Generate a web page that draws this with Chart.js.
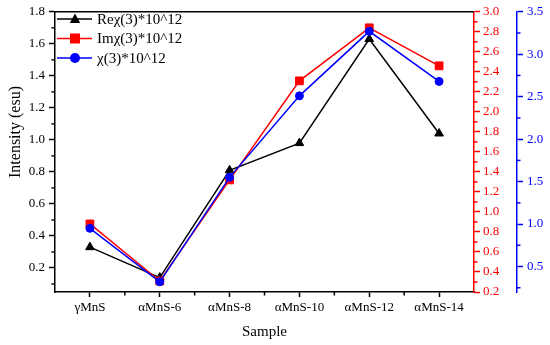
<!DOCTYPE html>
<html>
<head>
<meta charset="utf-8">
<script src="https://cdn.jsdelivr.net/npm/chart.js@4.4.0/dist/chart.umd.min.js"></script>
<style>
  body { margin: 0; background: #fff; }
</style>
</head>
<body>
<canvas id="chart" width="550" height="345"></canvas>
<script>
const categories = ['γMnS', 'αMnS-6', 'αMnS-8', 'αMnS-10', 'αMnS-12', 'αMnS-14'];
const reValues = [0.33, 0.14, 0.81, 0.98, 1.63, 1.04];
const imValues = [0.88, 0.31, 1.32, 2.31, 2.84, 2.46];
const chiValues = [0.95, 0.32, 1.55, 2.51, 3.27, 2.68];

const leftTicks = [0.2, 0.4, 0.6, 0.8, 1.0, 1.2, 1.4, 1.6, 1.8];
const redTicks = [0.2, 0.4, 0.6, 0.8, 1.0, 1.2, 1.4, 1.6, 1.8, 2.0, 2.2, 2.4, 2.6, 2.8, 3.0];
const blueTicks = [0.5, 1.0, 1.5, 2.0, 2.5, 3.0, 3.5];

const FONT = 'Liberation Serif, Times New Roman, serif';

function midpoints(ticks, min) {
    const step = ticks[1] - ticks[0];
    const out = [];
    for (let i = 0; i < ticks.length - 1; i++) out.push((ticks[i] + ticks[i + 1]) / 2);
    if (ticks[0] - step / 2 >= min) out.unshift(ticks[0] - step / 2);
    return out;
}

// short minor ticks, top frame line, y title, legend
const extras = {
    id: 'extras',
    afterDraw(chart) {
        const ctx = chart.ctx;
        const a = chart.chartArea;
        ctx.save();
        ctx.lineWidth = 1.5;

        const minor = (scale, color, side) => {
            ctx.strokeStyle = color;
            midpoints(scale.ticks.map(t => t.value), scale.min).forEach(v => {
                const y = scale.getPixelForValue(v);
                const x = side === 'left' ? scale.right : scale.left;
                ctx.beginPath();
                ctx.moveTo(x, y);
                ctx.lineTo(side === 'left' ? x - 3.5 : x + 3.5, y);
                ctx.stroke();
            });
        };
        minor(chart.scales.y, '#000', 'left');
        minor(chart.scales.y1, '#ff0000', 'right');
        minor(chart.scales.y2, '#0000ff', 'right');

        const xs = chart.scales.x;
        ctx.strokeStyle = '#000';
        for (let i = 0; i < categories.length - 1; i++) {
            const x = (xs.getPixelForValue(i) + xs.getPixelForValue(i + 1)) / 2;
            ctx.beginPath();
            ctx.moveTo(x, a.bottom);
            ctx.lineTo(x, a.bottom + 3.5);
            ctx.stroke();
        }

        // top frame
        ctx.beginPath();
        ctx.moveTo(a.left, a.top);
        ctx.lineTo(a.right, a.top);
        ctx.stroke();

        // y title
        ctx.fillStyle = '#000';
        ctx.font = '16px ' + FONT;
        ctx.textAlign = 'center';
        ctx.textBaseline = 'middle';
        ctx.translate(16, 132);
        ctx.rotate(-Math.PI / 2);
        ctx.fillText('Intensity (esu)', 0, 0);
        ctx.restore();

        // legend
        ctx.save();
        ctx.font = '15px ' + FONT;
        ctx.textBaseline = 'middle';
        ctx.textAlign = 'left';
        chart.data.datasets.forEach((ds, i) => {
            const y = 19 + i * 19.5;
            ctx.strokeStyle = ds.borderColor;
            ctx.fillStyle = ds.borderColor;
            ctx.lineWidth = 1.5;
            ctx.beginPath();
            ctx.moveTo(57, y);
            ctx.lineTo(92, y);
            ctx.stroke();
            const cx = 75;
            ctx.beginPath();
            if (ds.pointStyle === 'triangle') {
                ctx.moveTo(cx, y - 5.5);
                ctx.lineTo(cx + 5.2, y + 4);
                ctx.lineTo(cx - 5.2, y + 4);
                ctx.closePath();
            } else if (ds.pointStyle === 'rect') {
                ctx.rect(cx - 5, y - 5, 10, 10);
            } else {
                ctx.arc(cx, y, 5, 0, Math.PI * 2);
            }
            ctx.fill();
            ctx.fillStyle = '#000';
            ctx.fillText(ds.label, 97, y + 1);
        });
        ctx.restore();
    }
};

new Chart(document.getElementById('chart'), {
    type: 'line',
    data: {
        labels: categories,
        datasets: [
            {
                label: 'Reχ(3)*10^12',
                data: reValues,
                yAxisID: 'y',
                borderColor: '#000000',
                backgroundColor: '#000000',
                pointStyle: 'triangle',
                pointRadius: 5,
                borderWidth: 1.5,
                pointBorderWidth: 1,
                order: 3
            },
            {
                label: 'Imχ(3)*10^12',
                data: imValues,
                yAxisID: 'y1',
                borderColor: '#ff0000',
                backgroundColor: '#ff0000',
                pointStyle: 'rect',
                pointRadius: 5.5,
                borderWidth: 1.5,
                pointBorderWidth: 1,
                order: 2
            },
            {
                label: 'χ(3)*10^12',
                data: chiValues,
                yAxisID: 'y2',
                borderColor: '#0000ff',
                backgroundColor: '#0000ff',
                pointStyle: 'circle',
                pointRadius: 4,
                borderWidth: 1.5,
                pointBorderWidth: 1,
                order: 1
            }
        ]
    },
    options: {
        responsive: false,
        animation: false,
        layout: { padding: { top: 10, left: 0, right: 0, bottom: 0 } },
        plugins: { legend: { display: false }, tooltip: { enabled: false } },
        scales: {
            x: {
                offset: true,
                afterFit: s => { s.height = 53; },
                border: { color: '#000', width: 1.5 },
                grid: { drawOnChartArea: false, tickLength: 5, tickColor: '#000', tickWidth: 1.5 },
                ticks: { color: '#000', font: { family: FONT, size: 13 }, padding: 3, maxRotation: 0 },
                title: { display: true, text: 'Sample', color: '#000', font: { family: FONT, size: 15 }, padding: { top: 3, bottom: 4 } }
            },
            y: {
                position: 'left',
                min: 0.05,
                max: 1.8,
                afterFit: s => { s.width = 55; },
                afterBuildTicks: s => { s.ticks = leftTicks.map(v => ({ value: v })); },
                border: { color: '#000', width: 1.5 },
                grid: { drawOnChartArea: false, tickLength: 6, tickColor: '#000', tickWidth: 1.5 },
                ticks: { color: '#000', font: { family: FONT, size: 13 }, padding: 4, callback: v => v.toFixed(1) }
            },
            y1: {
                position: 'right',
                min: 0.2,
                max: 3.0,
                afterFit: s => { s.width = 43; },
                afterBuildTicks: s => { s.ticks = redTicks.map(v => ({ value: v })); },
                border: { color: '#ff0000', width: 1.5 },
                grid: { drawOnChartArea: false, tickLength: 6, tickColor: '#ff0000', tickWidth: 1.5 },
                ticks: { color: '#ff0000', font: { family: FONT, size: 13 }, padding: 3, callback: v => v.toFixed(1) }
            },
            y2: {
                position: 'right',
                min: 0.2,
                max: 3.5,
                afterFit: s => { s.width = 33; },
                afterBuildTicks: s => { s.ticks = blueTicks.map(v => ({ value: v })); },
                border: { color: '#0000ff', width: 1.5 },
                grid: { drawOnChartArea: false, tickLength: 6, tickColor: '#0000ff', tickWidth: 1.5 },
                ticks: { color: '#0000ff', font: { family: FONT, size: 13 }, padding: 4, callback: v => v.toFixed(1) }
            }
        }
    },
    plugins: [extras]
});
</script>
</body>
</html>
